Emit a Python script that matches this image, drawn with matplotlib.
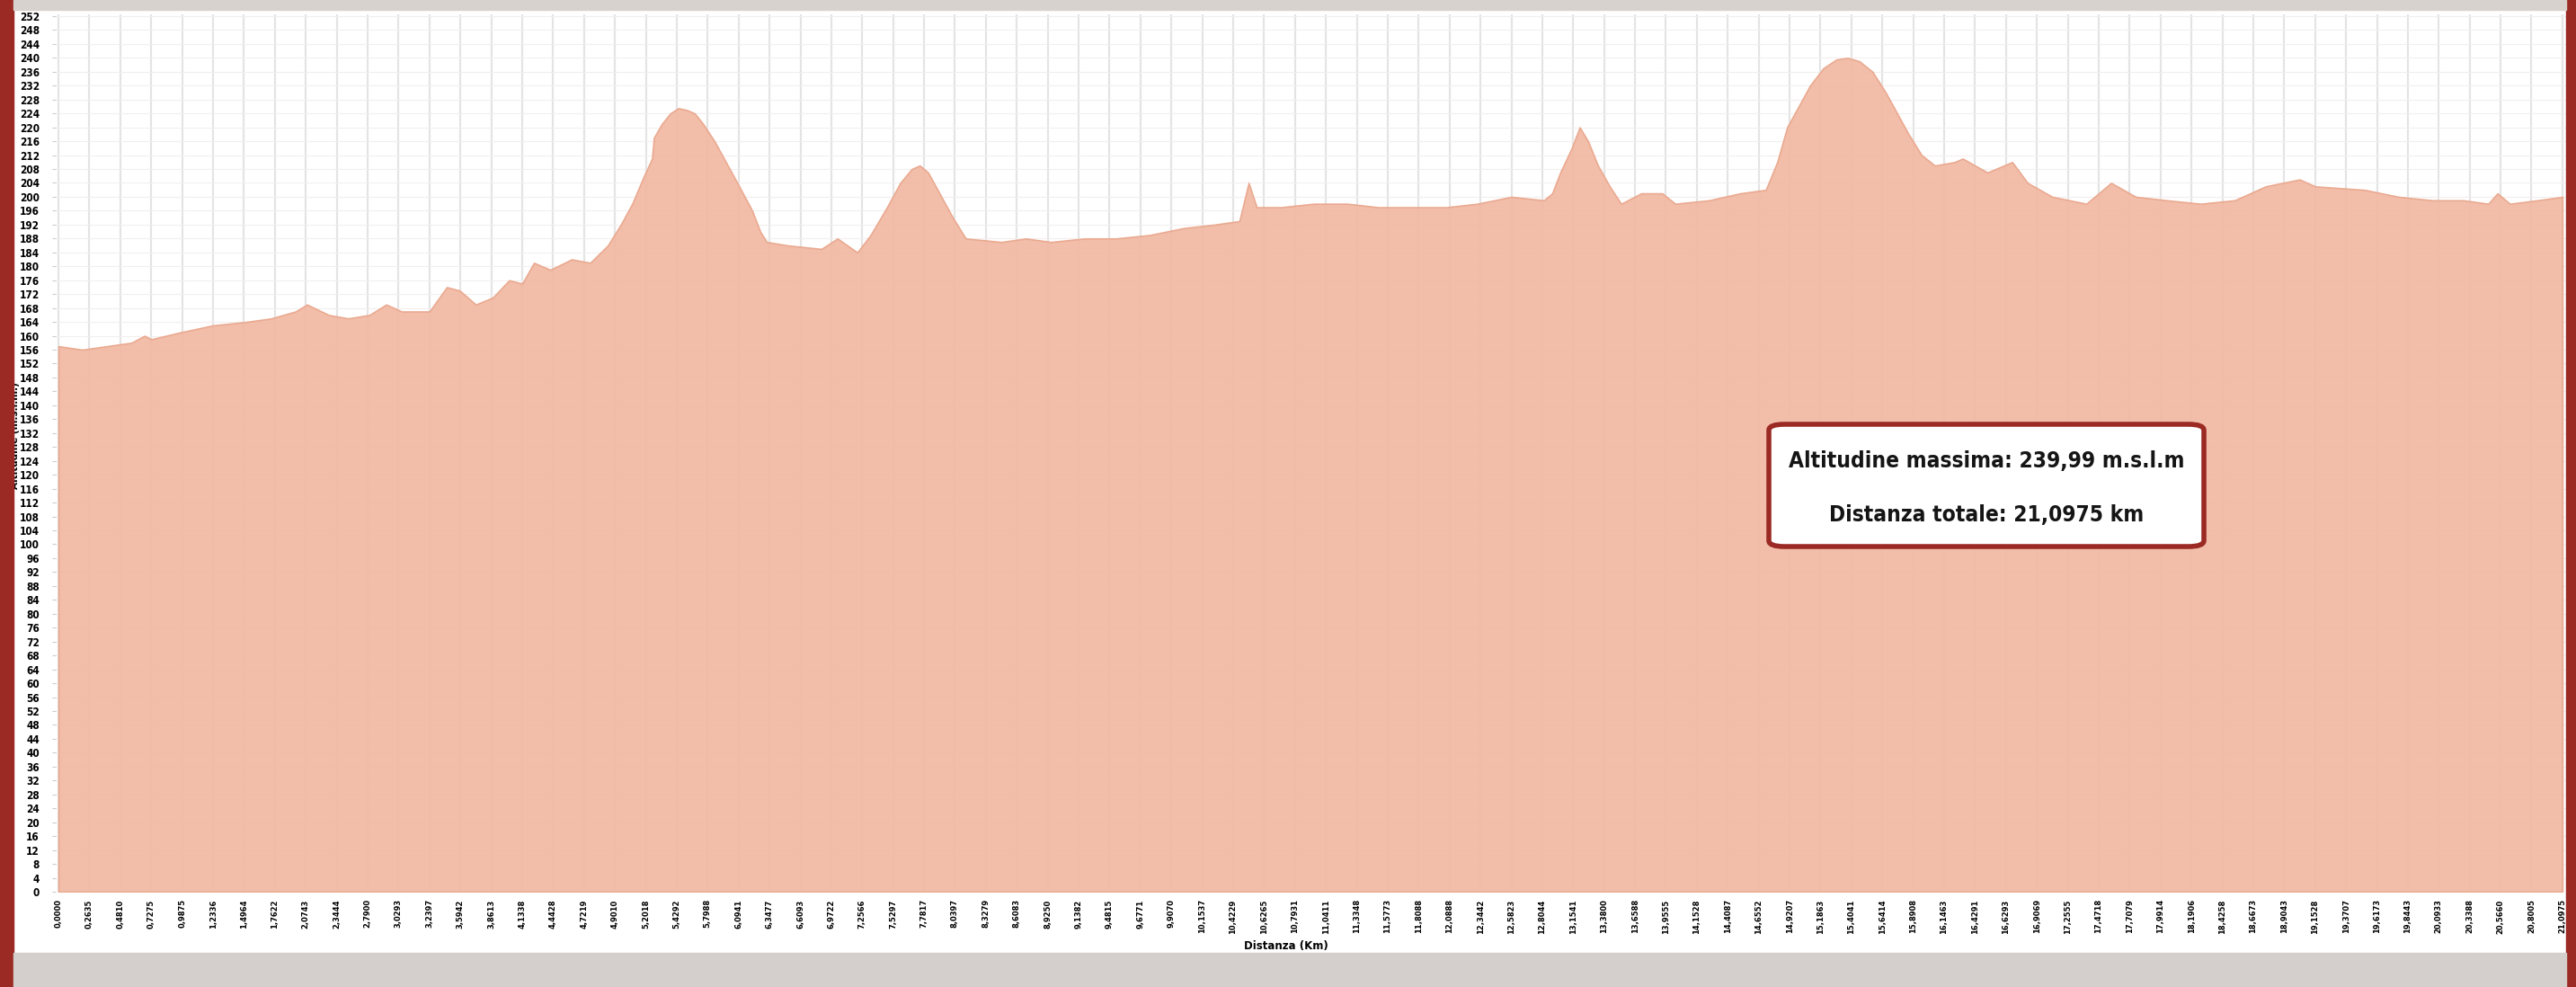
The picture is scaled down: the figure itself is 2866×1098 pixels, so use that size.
import matplotlib
matplotlib.use("Agg")
import matplotlib.pyplot as plt
from matplotlib.patches import Rectangle, FancyBboxPatch

## distance labels on the category axis (km)
dist_labels = ["0,0000", "0,2635", "0,4810", "0,7275", "0,9875", "1,2336", "1,4964", "1,7622",
               "2,0743", "2,3444", "2,7900", "3,0293", "3,2397", "3,5942", "3,8613", "4,1338",
               "4,4428", "4,7219", "4,9010", "5,2018", "5,4292", "5,7988", "6,0941", "6,3477",
               "6,6093", "6,9722", "7,2566", "7,5297", "7,7817", "8,0397", "8,3279", "8,6083",
               "8,9250", "9,1382", "9,4815", "9,6771", "9,9070", "10,1537", "10,4229", "10,6265",
               "10,7931", "11,0411", "11,3348", "11,5773", "11,8088", "12,0888", "12,3442", "12,5823",
               "12,8044", "13,1541", "13,3800", "13,6588", "13,9555", "14,1528", "14,4087", "14,6552",
               "14,9207", "15,1863", "15,4041", "15,6414", "15,8908", "16,1463", "16,4291", "16,6293",
               "16,9069", "17,2555", "17,4718", "17,7079", "17,9914", "18,1906", "18,4258", "18,6673",
               "18,9043", "19,1528", "19,3707", "19,6173", "19,8443", "20,0933", "20,3388", "20,5660",
               "20,8005", "21,0975"]

# profile samples: position in label index units, altitude in m
sample_pos = [0, 0.77, 1.56, 2.36, 2.78, 3.0, 3.95, 5.0, 6.08, 6.88, 7.67, 8.04, 8.74, 9.37,
              10.06, 10.6, 11.1, 12.0, 12.56, 12.98, 13.5, 14.05, 14.58, 15.0, 15.38, 15.91,
              16.6, 17.2, 17.77, 18.19, 18.56, 18.94, 19.2, 19.26, 19.52, 19.79, 20.05, 20.32,
              20.58, 20.85, 21.22, 21.59, 22.02, 22.44, 22.7, 22.91, 23.6, 24.68, 25.2, 25.84,
              26.27, 26.8, 27.23, 27.6, 27.86, 28.13, 28.5, 28.93, 29.35, 30.5, 31.3, 32.1,
              33.2, 34.2, 35.3, 36.4, 37.4, 38.2, 38.5, 38.76, 39.55, 40.6, 41.7, 42.7,
              43.8, 44.9, 45.9, 47.0, 48.05, 48.32, 48.58, 48.95, 49.21, 49.48, 49.8, 50.18,
              50.55, 51.2, 51.88, 52.3, 53.4, 54.4, 55.23, 55.6, 55.92, 56.29, 56.66, 57.09,
              57.51, 57.88, 58.26, 58.68, 59.11, 59.48, 59.85, 60.27, 60.7, 61.34, 61.6, 62.4,
              63.2, 63.7, 64.5, 65.6, 66.4, 67.2, 68.2, 69.3, 70.4, 71.4, 72.5, 73.0,
              74.6, 75.7, 76.8, 77.8, 78.6, 78.9, 79.3, 80.2, 81.0]
sample_alt = [157, 156, 157, 158, 160, 159, 161, 163, 164, 165, 167, 169, 166, 165,
              166, 169, 167, 167, 174, 173, 169, 171, 176, 175, 181, 179,
              182, 181, 186, 192, 198, 206, 211, 217, 221, 224, 225.5, 225,
              224, 221, 216, 210, 203, 196, 190, 187, 186, 185, 188, 184,
              189, 197, 204, 208, 209, 207, 201, 194, 188, 187, 188, 187,
              188, 188, 189, 191, 192, 193, 204, 197, 197, 198, 198, 197,
              197, 197, 198, 200, 199, 201, 207, 214, 220, 216, 209, 203,
              198, 201, 201, 198, 199, 201, 202, 210, 220, 226, 232, 237,
              239.5, 240, 239, 236, 230, 224, 218, 212, 209, 210, 211, 207,
              210, 204, 200, 198, 204, 200, 199, 198, 199, 203, 205, 203,
              202, 200, 199, 199, 198, 201, 198, 199, 200]
assert len(sample_pos) == len(sample_alt)

y_ticks = list(range(0, 253, 4))
info_lines = ["Altitudine massima: 239,99 m.s.l.m", "Distanza totale: 21,0975 km"]

plt.rcParams['font.family'] = ['DejaVu Sans']

W, H = 2866, 1098
fig = plt.figure(figsize=(W / 100, H / 100), dpi=100)
fig.patch.set_facecolor('white')

# frame around the chart
red = '#9b2a24'
fig.patches.append(Rectangle((0, 0), 15 / W, 1, transform=fig.transFigure, color=red, zorder=0))
fig.patches.append(Rectangle((1 - 11 / W, 0), 11 / W, 1, transform=fig.transFigure, color=red, zorder=0))
fig.patches.append(Rectangle((15 / W, 1 - 11 / H), 1 - 26 / W, 11 / H, transform=fig.transFigure,
                             color='#d8d2ce', zorder=0))
fig.patches.append(Rectangle((15 / W, 0), 1 - 26 / W, 38 / H, transform=fig.transFigure,
                             color='#d4cfcc', zorder=0))

ax = fig.add_axes([62 / W, 1 - 992 / H, (2855 - 62) / W, (992 - 16) / H])
ax.set_facecolor('white')
ax.fill_between(sample_pos, sample_alt, 0, color='#f1b9a3', edgecolor='#e9a68c',
                linewidth=1.2, alpha=0.93, zorder=2)

ax.set_xlim(-0.09, 81.12)
ax.set_ylim(0, 252.5)
ax.set_yticks(y_ticks)
ax.set_yticklabels([str(v) for v in y_ticks], fontsize=8.5, fontweight='bold',
                   fontstretch='condensed')
ax.set_xticks(range(len(dist_labels)))
ax.set_xticklabels(dist_labels, rotation=90, fontsize=6, fontweight='bold')
ax.tick_params(axis='y', length=3, color='#cccccc', pad=10)
ax.tick_params(axis='x', length=0, pad=6)
ax.grid(axis='x', color='#e4e4e4', linewidth=1.6, zorder=1)
ax.grid(axis='y', color='#f3eeee', linewidth=0.8, zorder=1)
ax.set_axisbelow(True)
for s in ax.spines.values():
    s.set_visible(False)

ax.set_xlabel("Distanza (Km)", fontsize=8.5, fontweight='bold', va='center')
ax.xaxis.set_label_coords(0.49, -0.0615)
ax.set_ylabel("Altitudine (m.s.l.m.)", fontsize=7.5, fontweight='bold', zorder=10)
ax.yaxis.set_label_coords(-0.0145, 0.52)

# info box
box = FancyBboxPatch((1968 / W, 1 - 608 / H), (2452 - 1968) / W, (608 - 472) / H,
                     boxstyle="round,pad=0,rounding_size=0.006", transform=fig.transFigure,
                     facecolor='white', edgecolor=red, linewidth=4, zorder=5)
fig.patches.append(box)
line_y = [513, 573]
texts = []
for s, yy in zip(info_lines, line_y):
    texts.append(fig.text(2210 / W, 1 - yy / H, s, ha='center', va='center', fontsize=26,
                          fontweight='bold', fontstretch='condensed', color='#151515', zorder=6))
# shrink the text until the first line fits the box
renderer = fig.canvas.get_renderer()
w = texts[0].get_window_extent(renderer).width
fs = 26 * 440 / w if w > 440 else 26
for t in texts:
    t.set_fontsize(fs)

fig.savefig("out.png", dpi=100)
